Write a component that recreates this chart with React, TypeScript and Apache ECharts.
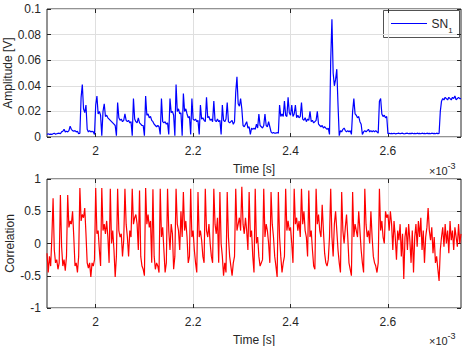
import React, { useEffect, useRef } from "react";
import * as echarts from "echarts";

// Sampling grid of both records (time in ms, shown with a ×10^-3 s multiplier)
const TIME_START = 1.9;
const TIME_STEP = 0.0025;
const TIME_MIN = 1.9;
const TIME_MAX = 2.75;
const TIME_TICKS = [2, 2.2, 2.4, 2.6];

const AMP_MIN = 0;
const AMP_MAX = 0.1;
const AMP_INTERVAL = 0.02;
const CORR_MIN = -1;
const CORR_MAX = 1;
const CORR_INTERVAL = 0.5;

const SERIES_NAME = "SN";
const SERIES_SUB = "1";

// Sensor SN1 amplitude [V]
const AMPLITUDE = [
  0.002, 0.0025, 0.002, 0.0022, 0.002, 0.0025, 0.003, 0.0022, 0.0025, 0.0028,
  0.003, 0.0025, 0.004, 0.0045, 0.006, 0.004, 0.0045, 0.004, 0.005, 0.0085,
  0.006, 0.005, 0.0045, 0.005, 0.004, 0.0045, 0.0025, 0.003, 0.031, 0.041,
  0.022, 0.019, 0.025, 0.006, 0.004, 0.005, 0.004, 0.0045, 0.004, 0.002,
  0.025, 0.032, 0.018, 0.02, 0.017, 0.001, 0.02, 0.026, 0.016, 0.017,
  0.015, 0.014, 0.013, 0.012, 0.011, 0.01, 0.009, 0.001, 0.027, 0.015,
  0.013, 0.014, 0.012, 0.013, 0.018, 0.013, 0.012, 0.013, 0.011, 0.012,
  0.001, 0.03, 0.014, 0.012, 0.011, 0.015, 0.011, 0.01, 0.009, 0.009,
  0.001, 0.032, 0.017, 0.018, 0.015, 0.016, 0.013, 0.012, 0.01, 0.009,
  0.008, 0.009, 0.008, 0.002, 0.03, 0.012, 0.011, 0.012, 0.01, 0.011,
  0.002, 0.03, 0.019, 0.02, 0.017, 0.001, 0.041, 0.02, 0.022, 0.018,
  0.019, 0.001, 0.034, 0.02, 0.022, 0.018, 0.015, 0.016, 0.002, 0.03,
  0.014, 0.013, 0.014, 0.012, 0.013, 0.002, 0.025, 0.014, 0.015, 0.013,
  0.012, 0.031, 0.015, 0.016, 0.013, 0.014, 0.012, 0.028, 0.013, 0.012,
  0.014, 0.012, 0.013, 0.002, 0.025, 0.013, 0.012, 0.014, 0.027, 0.012,
  0.011, 0.012, 0.013, 0.01, 0.012, 0.035, 0.047, 0.026, 0.024, 0.03,
  0.022, 0.009, 0.008, 0.01, 0.012, 0.007, 0.008, 0.002, 0.007, 0.006,
  0.007, 0.006, 0.01, 0.007, 0.018, 0.009, 0.008, 0.007, 0.009, 0.018,
  0.009, 0.008, 0.012, 0.008, 0.004, 0.003, 0.0035, 0.003, 0.003, 0.0035,
  0.003, 0.025, 0.016, 0.018, 0.016, 0.028, 0.017, 0.016, 0.031, 0.019,
  0.017, 0.025, 0.016, 0.018, 0.025, 0.015, 0.017, 0.015, 0.016, 0.027,
  0.014, 0.013, 0.015, 0.012, 0.014, 0.013, 0.02, 0.012, 0.013, 0.011,
  0.012, 0.013, 0.02, 0.01, 0.009, 0.008, 0.009, 0.007, 0.008, 0.007,
  0.006, 0.007, 0.002, 0.06, 0.092, 0.05, 0.04, 0.045, 0.053, 0.025,
  0.001, 0.005, 0.004, 0.006, 0.007, 0.005, 0.004, 0.005, 0.004, 0.005,
  0.002, 0.02, 0.03, 0.018, 0.017, 0.015, 0.016, 0.012, 0.01, 0.002,
  0.004, 0.005, 0.004, 0.005, 0.006, 0.004, 0.005, 0.004, 0.005, 0.004,
  0.005, 0.004, 0.003, 0.028, 0.03, 0.018, 0.016, 0.017, 0.015, 0.016,
  0.0025, 0.003, 0.0025, 0.0028, 0.0025, 0.003, 0.0025, 0.0027, 0.0028, 0.003,
  0.0025, 0.0028, 0.003, 0.0025, 0.0026, 0.0028, 0.003, 0.0025, 0.0028, 0.0026,
  0.003, 0.0025, 0.0028, 0.0025, 0.003, 0.0026, 0.0028, 0.0025, 0.003, 0.0027,
  0.0028, 0.0025, 0.003, 0.0026, 0.0028, 0.0025, 0.003, 0.0027, 0.0028, 0.0025,
  0.003, 0.0026, 0.0028, 0.02, 0.028, 0.03, 0.029, 0.031, 0.03, 0.029,
  0.031, 0.03, 0.029, 0.031, 0.03, 0.032, 0.029, 0.03, 0.031, 0.03, 0.03,
];

// Correlation of SN1
const CORRELATION = [
  -0.15, -0.45, -0.2, -0.35, 0.1, 0.7, -0.1, -0.3, -0.25, -0.4,
  -0.3, 0.75, -0.05, -0.35, -0.25, -0.42, -0.2, 0.75, 0.25, 0.35,
  0.3, 0.5, 0.1, -0.35, -0.3, -0.45, -0.2, 0.86, 0.35, 0.45,
  0.4, 0.55, 0.15, -0.3, -0.38, -0.3, -0.52, -0.3, -0.35, -0.25,
  0.86, 0.15, 0.2, -0.1, -0.35, 0.86, 0.2, 0.3, 0.15, 0.35,
  0.1, -0.3, 0.85, 0.0, 0.2, -0.1, -0.52, -0.2, 0.85, 0.2,
  0.1, 0.15, -0.2, 0.05, 0.85, 0.3, 0.1, -0.2, 0.2, 0.1,
  0.85, 0.3, 0.4, 0.45, 0.3, -0.1, 0.82, -0.2, -0.35, -0.4,
  -0.5, 0.86, 0.3, 0.45, 0.25, 0.35, -0.3, 0.84, -0.2, -0.4,
  -0.3, -0.35, -0.45, 0.85, 0.1, 0.25, -0.1, -0.45, -0.3, 0.85,
  0.2, -0.1, 0.3, 0.15, -0.4, -0.2, 0.85, 0.3, 0.2, -0.1,
  0.5, 0.1, 0.8, 0.2, 0.35, 0.1, -0.3, -0.2, 0.85, 0.1,
  0.2, -0.1, -0.3, -0.45, 0.8, 0.1, 0.2, 0.05, -0.2, -0.3,
  0.85, 0.2, 0.1, 0.3, 0.0, -0.2, -0.3, 0.85, 0.3, 0.15,
  0.4, -0.3, 0.8, 0.0, -0.2, -0.5, -0.3, -0.45, 0.8, 0.1,
  -0.2, -0.35, -0.5, -0.3, -0.2, 0.85, 0.2, 0.3, 0.4, 0.2,
  0.88, 0.3, 0.15, 0.4, 0.2, -0.1, 0.8, 0.1, 0.2, -0.2,
  -0.45, 0.85, 0.0, 0.1, -0.2, -0.35, -0.3, -0.25, 0.85, 0.1,
  0.3, 0.2, 0.0, -0.3, 0.8, 0.3, 0.1, -0.2, -0.35, -0.52,
  0.8, 0.1, -0.2, -0.45, -0.3, -0.2, 0.85, 0.2, 0.35, 0.2,
  0.25, 0.0, -0.3, 0.85, 0.3, 0.4, 0.2, 0.35, 0.1, 0.85,
  0.3, 0.5, 0.2, 0.1, -0.2, 0.82, 0.1, 0.2, -0.1, -0.35,
  -0.4, 0.85, 0.3, 0.45, 0.2, 0.1, 0.6, 0.2, -0.15, -0.3,
  -0.35, -0.25, 0.1, 0.85, 0.1, -0.2, 0.3, 0.5, 0.2, -0.1,
  -0.3, -0.45, 0.8, 0.2, 0.0, 0.25, 0.45, 0.1, -0.3, -0.4,
  -0.5, 0.8, 0.1, 0.3, 0.2, 0.1, 0.5, 0.2, -0.1, -0.3,
  -0.45, 0.85, 0.3, 0.1, 0.2, 0.0, 0.5, 0.1, -0.2, -0.3,
  -0.35, -0.45, -0.3, 0.85, 0.2, 0.35, 0.1, 0.0, 0.5, 0.4,
  0.45, 0.2, 0.5, 0.3, -0.1, 0.35, 0.1, -0.25, 0.2, 0.05,
  0.3, -0.2, 0.15, -0.55, 0.1, 0.25, -0.1, 0.3, 0.05, -0.3,
  0.2, -0.45, 0.1, 0.3, -0.05, 0.35, 0.1, 0.4, -0.1, 0.2,
  -0.3, 0.1, 0.25, 0.55, 0.2, 0.05, 0.25, -0.15, 0.1, -0.3,
  -0.2, -0.4, -0.58, -0.1, 0.1, 0.25, -0.05, 0.3, 0.0, 0.2,
  -0.15, 0.35, 0.05, 0.2, -0.1, 0.25, 0.1, -0.05, 0.3, 0.0, 0.15,
];

const FONT = "'Liberation Sans', Arial, Helvetica, sans-serif";
const INK = "#262626";
const GRID_LINE = "#dfdfdf";
const BLUE = "#0000ff";
const RED = "#ff0000";

const toPairs = (values: number[]) =>
  values.map((v, i) => [+(TIME_START + i * TIME_STEP).toFixed(4), v]);

const textStyle = { color: INK, fontFamily: FONT, fontSize: 12 };

function bottomTimeAxis(gridIndex: number) {
  return {
    type: "value",
    gridIndex,
    position: "bottom",
    min: TIME_MIN,
    max: TIME_MAX,
    axisLine: { show: false, onZero: false },
    axisTick: {
      show: true,
      inside: true,
      length: 4,
      customValues: TIME_TICKS,
      lineStyle: { color: INK, width: 1 },
    },
    axisLabel: {
      ...textStyle,
      margin: 8,
      customValues: TIME_TICKS,
      formatter: (v: number) => String(+v.toFixed(2)),
    },
    splitLine: { show: true, lineStyle: { color: GRID_LINE, width: 1 } },
    name: "Time [s]",
    nameLocation: "middle",
    nameGap: 26,
    nameMoveOverlap: false,
    nameTextStyle: textStyle,
  };
}

function topTimeAxis(gridIndex: number) {
  return {
    type: "value",
    gridIndex,
    position: "top",
    min: TIME_MIN,
    max: TIME_MAX,
    axisLine: { show: false, onZero: false },
    axisTick: {
      show: true,
      inside: true,
      length: 4,
      customValues: TIME_TICKS,
      lineStyle: { color: INK, width: 1 },
    },
    axisLabel: { show: false },
    splitLine: { show: false },
  };
}

function leftValueAxis(gridIndex: number, min: number, max: number, interval: number, name: string, gap: number) {
  return {
    type: "value",
    gridIndex,
    position: "left",
    min,
    max,
    interval,
    axisLine: { show: false, onZero: false },
    axisTick: { show: true, inside: true, length: 4, lineStyle: { color: INK, width: 1 } },
    axisLabel: { ...textStyle, margin: 6 },
    splitLine: { show: true, lineStyle: { color: GRID_LINE, width: 1 } },
    name,
    nameLocation: "middle",
    nameGap: gap,
    nameMoveOverlap: false,
    nameTextStyle: textStyle,
  };
}

function rightValueAxis(gridIndex: number, min: number, max: number, interval: number) {
  return {
    type: "value",
    gridIndex,
    position: "right",
    min,
    max,
    interval,
    axisLine: { show: false, onZero: false },
    axisTick: { show: true, inside: true, length: 4, lineStyle: { color: INK, width: 1 } },
    axisLabel: { show: false },
    splitLine: { show: false },
  };
}

function exponentLabel(x: number, y: number) {
  return {
    type: "group",
    children: [
      {
        type: "text",
        x,
        y,
        style: { text: "×10", fill: INK, fontFamily: FONT, fontSize: 11, align: "left", verticalAlign: "middle" },
      },
      {
        type: "text",
        x: x + 18.5,
        y: y - 5,
        style: { text: "-3", fill: INK, fontFamily: FONT, fontSize: 9, align: "left", verticalAlign: "middle" },
      },
    ],
  };
}

export default function App() {
  const ref = useRef<HTMLDivElement>(null);

  useEffect(() => {
    if (!ref.current) return;
    const chart = echarts.init(ref.current, undefined, { renderer: "svg" });

    const gridBox = {
      show: true,
      borderColor: INK,
      borderWidth: 1,
      backgroundColor: "#ffffff",
      containLabel: false,
      outerBoundsMode: "none",
    };

    chart.setOption({
      animation: false,
      backgroundColor: "#ffffff",
      grid: [
        { ...gridBox, left: 47, top: 9, width: 414, height: 128 },
        { ...gridBox, left: 47, top: 179, width: 414, height: 129 },
      ],
      xAxis: [bottomTimeAxis(0), topTimeAxis(0), bottomTimeAxis(1), topTimeAxis(1)],
      yAxis: [
        leftValueAxis(0, AMP_MIN, AMP_MAX, AMP_INTERVAL, "Amplitude [V]", 33),
        rightValueAxis(0, AMP_MIN, AMP_MAX, AMP_INTERVAL),
        leftValueAxis(1, CORR_MIN, CORR_MAX, CORR_INTERVAL, "Correlation", 31),
        rightValueAxis(1, CORR_MIN, CORR_MAX, CORR_INTERVAL),
      ],
      series: [
        {
          name: SERIES_NAME + SERIES_SUB,
          type: "line",
          xAxisIndex: 0,
          yAxisIndex: 0,
          data: toPairs(AMPLITUDE),
          symbol: "none",
          showSymbol: false,
          lineStyle: { color: BLUE, width: 1.2 },
          itemStyle: { color: BLUE },
        },
        {
          name: "Correlation",
          type: "line",
          xAxisIndex: 2,
          yAxisIndex: 2,
          data: toPairs(CORRELATION),
          symbol: "none",
          showSymbol: false,
          lineStyle: { color: RED, width: 1.2 },
          itemStyle: { color: RED },
        },
      ],
      graphic: [
        exponentLabel(429, 171),
        exponentLabel(429, 341),
        {
          type: "group",
          children: [
            {
              type: "rect",
              shape: { x: 383.5, y: 10.5, width: 76, height: 27 },
              style: { fill: "#ffffff", stroke: INK, lineWidth: 0.8 },
            },
            {
              type: "polyline",
              shape: { points: [[391, 23.5], [427, 23.5]] },
              style: { stroke: BLUE, lineWidth: 1, fill: "none" },
              z: 10,
            },
            {
              type: "text",
              x: 431.5,
              y: 23.5,
              style: { text: SERIES_NAME, fill: INK, fontFamily: FONT, fontSize: 12, align: "left", verticalAlign: "middle" },
            },
            {
              type: "text",
              x: 448.3,
              y: 30,
              style: { text: SERIES_SUB, fill: INK, fontFamily: FONT, fontSize: 8, align: "left", verticalAlign: "middle" },
            },
          ],
        },
      ],
    });

    return () => chart.dispose();
  }, []);

  return (
    <div
      ref={ref}
      style={{ position: "absolute", left: 0, top: 0, width: 468, height: 346, background: "#ffffff" }}
    />
  );
}
